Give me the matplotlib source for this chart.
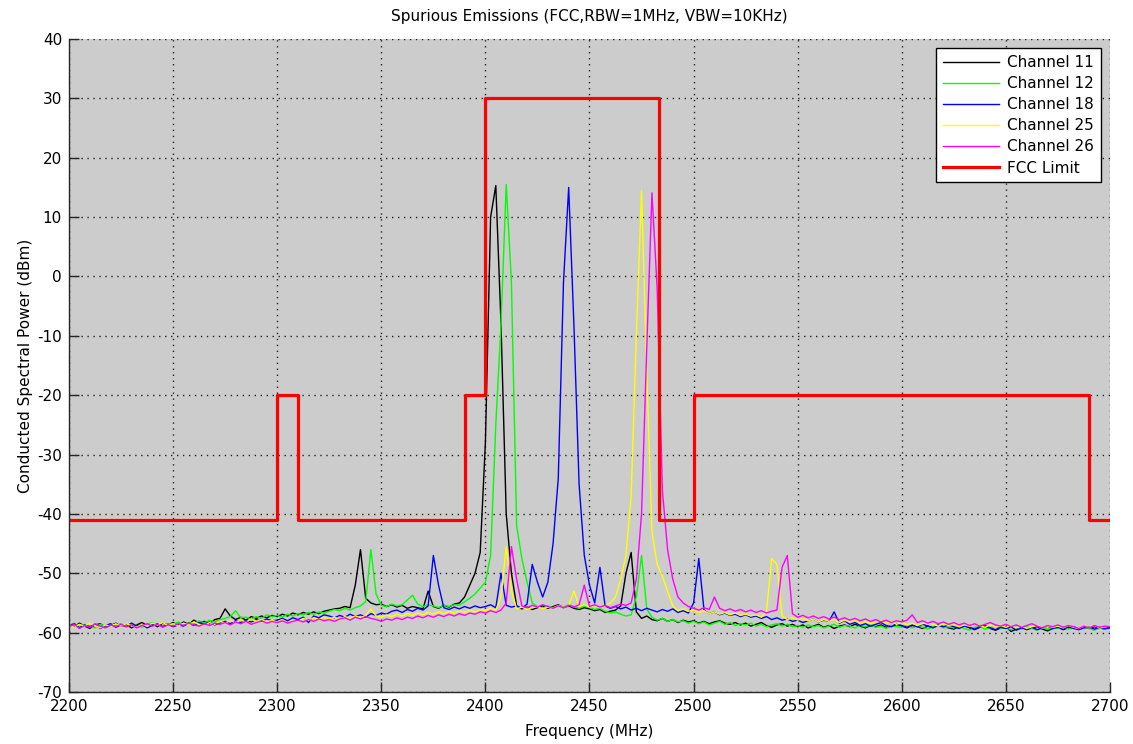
import numpy as np
import matplotlib
matplotlib.use("Agg")
import matplotlib.pyplot as plt

# ---------------- data ----------------
# sweep frequencies (MHz): 2200 .. 2700 in 2.5 MHz steps (201 points)
freq_start, freq_stop, n_points = 2200, 2700, 201

ch11 = [
    -58.6, -59.0, -58.4, -58.9, -59.3, -58.7, -58.5, -59.1, -58.8, -58.4,
    -58.9, -58.6, -59.2, -58.7, -58.3, -58.8, -58.5, -59.0, -58.4, -58.7,
    -58.3, -58.8, -58.2, -58.6, -57.9, -58.4, -58.1, -58.5, -57.8, -57.6,
    -56.0, -57.2, -57.8, -57.4, -57.9, -57.3, -57.6, -57.2, -57.5, -57.1,
    -57.3, -56.9, -57.2, -56.7, -57.0, -56.6, -56.9, -56.5, -56.8, -56.4,
    -56.2, -56.0, -55.9, -55.6, -55.8, -52.0, -46.0, -54.2, -55.0, -55.3,
    -55.2, -55.6, -55.3, -55.7, -55.4, -55.9, -55.6, -55.8, -56.0, -53.0,
    -55.6, -55.9, -55.4, -55.7, -55.2, -55.0, -54.0, -52.0, -50.0, -46.5,
    -28.0, 10.0, 15.3, -8.0, -40.0, -50.0, -55.5, -56.0, -55.7, -56.1,
    -55.8, -55.5, -55.9, -55.6, -55.3, -55.8, -55.5, -55.9, -56.1, -55.8,
    -56.0, -56.3, -56.1, -56.6, -56.4, -56.2, -55.5, -50.0, -46.5, -56.5,
    -57.6, -57.2, -57.8, -58.0, -57.6, -58.1, -57.8, -58.3, -57.9, -58.2,
    -58.0, -58.4, -58.1, -58.5, -58.2, -58.0, -58.4, -58.6, -58.3, -58.7,
    -58.4, -58.9, -58.6, -58.3, -58.8, -59.1, -58.7, -58.5, -58.9, -58.6,
    -59.0, -58.7, -59.2, -58.9, -58.6, -59.1, -58.8, -59.3, -58.9, -58.7,
    -59.0, -58.6, -58.9, -59.2, -58.8, -59.0, -58.7, -59.1, -58.9, -58.6,
    -58.9, -59.2, -58.8, -59.0, -59.3, -58.9, -59.1, -58.7, -59.0, -59.2,
    -59.4, -59.0, -58.8, -59.2, -59.5, -59.1, -58.9, -59.3, -59.6, -59.2,
    -59.0, -59.8, -59.4, -59.1, -59.5, -59.2, -59.0, -59.4, -59.7, -59.3,
    -59.1, -59.5, -59.2, -59.0, -59.4, -59.1, -59.3, -59.0, -59.2, -59.4,
    -59.1,
]

ch12 = [
    -58.8, -58.4, -59.0, -58.6, -58.9, -59.2, -58.6, -58.9, -58.5, -58.8,
    -58.5, -58.9, -58.4, -58.8, -59.1, -58.6, -58.3, -58.7, -58.9, -58.5,
    -58.6, -58.2, -58.7, -58.3, -58.5, -58.0, -58.4, -57.9, -58.2, -57.8,
    -57.6, -57.3, -56.3, -57.5, -57.4, -57.7, -57.3, -57.6, -57.0, -57.3,
    -57.1, -57.4, -56.9, -57.2, -56.8, -57.0, -56.6, -56.9, -56.5, -56.7,
    -56.4, -56.1, -56.3, -55.9, -56.2, -55.8, -55.5, -54.8, -46.0, -53.5,
    -55.4, -55.6, -55.2, -55.5, -55.3, -54.5, -53.7, -55.2, -55.6, -55.3,
    -55.5, -55.8, -55.4, -55.6, -55.3, -55.4, -54.8, -54.2, -53.5, -52.5,
    -51.5, -47.0, -25.0, -8.0, 15.5, -1.0, -42.0, -47.5, -51.5, -55.0,
    -55.6, -55.9, -55.5, -55.8, -55.4, -55.7, -55.3, -55.6, -55.9, -55.5,
    -55.8, -56.1, -55.9, -56.4, -56.7, -56.5, -56.9, -57.2, -57.0, -54.0,
    -47.0, -56.0, -57.4, -57.9, -57.6, -58.1, -57.8, -58.2, -58.0, -58.4,
    -58.1, -58.5, -58.2, -58.7, -58.4, -58.1, -58.6, -58.3, -58.8, -58.5,
    -58.7, -58.4, -58.9, -58.6, -59.0, -58.7, -58.5, -58.9, -58.6, -59.0,
    -58.8, -59.1, -58.7, -59.0, -58.8, -59.2, -58.9, -58.6, -59.1, -58.8,
    -58.9, -59.2, -58.8, -59.0, -58.7, -59.1, -58.9, -59.3, -58.8, -59.0,
    -59.1, -58.8, -59.2, -58.9, -59.1, -59.4, -59.0, -58.8, -59.2, -59.0,
    -59.2, -58.9, -59.3, -59.6, -59.1, -59.0, -59.4, -59.2, -58.9, -59.3,
    -59.2, -59.5, -59.1, -59.4, -59.0, -59.3, -59.6, -59.1, -59.4, -59.2,
    -59.3, -59.0, -59.4, -59.2, -59.5, -59.1, -59.3, -59.6, -59.2, -59.4,
    -59.3,
]

ch18 = [
    -58.9, -58.5, -59.2, -58.7, -59.0, -58.6, -59.3, -58.8, -58.5, -59.1,
    -58.7, -59.0, -58.4, -58.9, -58.6, -59.2, -58.8, -58.5, -59.0, -58.6,
    -59.0, -58.7, -58.9, -58.4, -58.8, -58.3, -58.6, -58.2, -58.7, -58.4,
    -58.1, -58.5, -58.0, -58.3, -57.9, -58.2, -57.8, -58.1, -57.7, -58.0,
    -57.9, -57.6, -58.0, -57.5, -57.8, -57.4, -58.3, -57.2, -57.5, -57.0,
    -57.2, -57.5, -57.1, -57.4, -56.9, -57.3, -57.0, -57.4, -56.8, -57.1,
    -56.7, -56.9, -56.4, -56.2, -56.6, -56.1, -56.4, -55.9, -56.2, -55.5,
    -47.0, -52.0, -55.8, -56.1, -55.7, -56.0, -55.6, -55.9, -55.5, -55.8,
    -55.6, -55.3, -55.8, -50.0, -55.4, -55.7, -55.5, -55.9, -55.2, -48.5,
    -51.5, -54.0, -51.5, -45.0, -34.0, -1.0, 15.0, -8.0, -35.0, -47.0,
    -52.0, -55.0, -49.0, -55.5, -55.9, -55.6, -56.0, -55.7, -56.2, -55.9,
    -56.3, -55.9, -56.2, -56.5, -56.1, -56.4, -56.0, -56.6, -56.3, -56.7,
    -55.0, -47.5, -56.2, -56.8, -56.5, -57.0, -56.7, -57.1, -56.9, -57.3,
    -57.0, -57.4, -57.2, -57.6, -57.3, -57.8, -57.5, -57.9, -57.7, -58.1,
    -57.9, -58.3, -58.0, -57.7, -58.2, -57.9, -58.1, -56.5, -58.4, -58.0,
    -58.6, -58.3, -58.8, -58.5, -58.9, -58.6, -58.3, -58.8, -59.0, -58.6,
    -58.8, -59.1, -58.7, -59.0, -58.6, -58.9, -59.2, -58.8, -59.0, -58.7,
    -59.0, -59.3, -58.9, -59.1, -59.4, -59.0, -58.8, -59.2, -59.5, -59.1,
    -59.3, -59.0, -59.6, -59.2, -59.4, -59.1, -59.5, -59.2, -58.9, -59.3,
    -59.1, -59.4, -59.0, -59.3, -59.5, -59.2, -59.0, -59.4, -59.1, -59.3,
    -59.2,
]

ch25 = [
    -58.7, -59.1, -58.6, -58.9, -58.4, -58.8, -59.2, -58.7, -58.9, -58.5,
    -58.9, -58.5, -58.8, -59.1, -58.6, -58.9, -58.4, -58.7, -58.3, -58.8,
    -58.5, -58.9, -58.4, -58.7, -58.2, -58.6, -58.8, -58.3, -58.6, -58.1,
    -58.4, -58.0, -58.3, -57.9, -58.2, -57.7, -58.1, -57.8, -58.2, -57.9,
    -58.2, -57.8, -58.4, -57.9, -58.1, -57.6, -57.9, -57.5, -57.8, -57.4,
    -57.7, -57.4, -57.8, -57.3, -57.6, -57.2, -57.5, -57.1, -56.0, -57.2,
    -57.4, -57.0, -57.3, -56.9, -57.2, -56.8, -57.1, -56.7, -57.0, -56.6,
    -56.9, -56.5, -56.8, -56.4, -56.7, -56.3, -56.6, -56.2, -56.5, -56.1,
    -56.3, -55.9, -56.2, -54.0, -45.5, -53.0, -56.0, -55.7, -56.1, -55.8,
    -55.6, -56.0, -55.7, -55.9, -55.5, -55.8, -55.4, -53.0, -55.6, -55.3,
    -55.7, -55.4, -55.8, -55.5, -55.0, -54.0, -51.0, -47.0, -37.0, -10.0,
    14.4, -16.0, -43.0, -48.5, -50.5, -53.0, -55.5, -56.3, -56.0, -56.4,
    -56.2, -56.6, -56.3, -56.8, -56.5, -56.9, -56.6, -57.0, -56.7, -57.1,
    -56.9, -57.2, -57.0, -57.4, -56.5, -47.5, -48.5, -57.2, -57.8, -57.5,
    -57.9, -57.6, -58.0, -57.7, -58.2, -57.8, -58.1, -57.7, -58.3, -57.9,
    -58.2, -57.9, -58.4, -58.1, -58.5, -58.2, -58.0, -58.4, -58.1, -58.6,
    -58.3, -58.7, -58.4, -58.8, -58.5, -58.2, -58.6, -58.9, -58.5, -58.8,
    -58.6, -59.0, -58.7, -58.9, -58.5, -58.8, -59.1, -58.7, -59.0, -58.8,
    -59.1, -58.8, -59.2, -58.9, -59.3, -59.0, -58.8, -59.2, -58.9, -59.1,
    -58.9, -59.2, -58.8, -59.1, -59.3, -58.9, -59.1, -58.8, -59.2, -59.0,
    -58.9,
]

ch26 = [
    -59.0, -58.6, -59.3, -58.8, -59.1, -58.5, -58.9, -59.2, -58.7, -59.0,
    -58.6, -59.0, -58.7, -59.2, -58.8, -58.5, -58.9, -58.6, -59.1, -58.7,
    -58.9, -58.5, -58.8, -58.4, -58.7, -58.9, -58.5, -58.8, -58.4, -58.6,
    -58.3, -58.7, -58.2, -58.5, -58.1, -58.6, -58.3, -58.0, -58.4, -58.1,
    -58.3, -58.0, -58.4, -58.1, -57.9, -58.2, -57.8, -58.1, -57.7, -58.0,
    -57.8, -58.1, -57.7, -57.5, -57.9, -57.4, -57.7, -57.3, -57.6, -57.8,
    -58.1, -57.7, -57.9, -57.5, -57.8, -57.4, -57.6, -57.2, -57.5, -57.1,
    -57.4, -57.0, -57.3, -56.9, -57.2, -56.8, -57.1, -56.7, -56.9, -56.5,
    -56.7, -56.3, -56.6, -56.2, -55.0, -45.5, -51.0, -55.5, -55.8, -55.4,
    -55.7, -55.3, -55.6, -55.9, -55.5, -55.8, -55.4, -55.7, -55.3, -52.0,
    -55.6, -55.3, -55.7, -55.4, -55.8, -55.5, -55.2, -55.4, -55.0, -51.0,
    -40.0, -12.0, 14.1, -2.0, -36.0, -46.0, -51.0, -54.0, -55.0, -55.6,
    -55.9, -56.2, -55.8, -56.1, -54.0, -55.9, -56.3, -56.0, -56.4, -56.1,
    -56.5, -56.2, -56.6, -56.3, -56.7, -56.4, -56.2, -49.0, -47.0, -56.8,
    -57.4, -57.1, -57.5, -57.2, -57.6, -57.3, -57.7, -57.4, -57.8, -57.5,
    -57.9, -57.6, -58.0, -57.7, -58.1, -57.8, -58.2, -57.9, -58.3, -58.0,
    -58.2, -57.9, -57.0, -58.3, -58.0, -58.4, -58.1, -58.5, -58.2, -58.6,
    -58.3, -58.7, -58.4, -58.8, -58.5, -58.9, -58.6, -58.3, -58.7, -58.9,
    -58.6, -59.0, -58.7, -59.1, -58.8, -58.5, -58.9, -59.2, -58.8, -59.0,
    -58.7, -59.1, -58.8, -59.0, -59.3, -58.9, -59.2, -58.8, -59.1, -58.9,
    -59.0,
]

series_labels = ["Channel 11", "Channel 12", "Channel 18", "Channel 25", "Channel 26"]
series_colors = ["#000000", "#00ff00", "#0000ff", "#ffff00", "#ff00ff"]

# FCC limit mask
limit_edges = [2200, 2300, 2310, 2390, 2400, 2483.5, 2500, 2690, 2700]
limit_levels = [-41, -20, -41, -20, 30, -41, -20, -41]

x_ticks = [2200, 2250, 2300, 2350, 2400, 2450, 2500, 2550, 2600, 2650, 2700]
y_ticks = [-70, -60, -50, -40, -30, -20, -10, 0, 10, 20, 30, 40]

# ---------------- plot ----------------
plt.rcParams['font.family'] = ['DejaVu Sans']
plt.rcParams['axes.unicode_minus'] = False
fig = plt.figure(figsize=(11.33, 7.44), dpi=100)
ax = fig.add_axes([69 / 1133, 52 / 744, (1110 - 69) / 1133, (692 - 39) / 744])
ax.set_facecolor("#cccccc")

freq = np.linspace(freq_start, freq_stop, n_points)
for vals, lab, col in zip([ch11, ch12, ch18, ch25, ch26], series_labels, series_colors):
    ax.plot(freq, vals, color=col, lw=1.0, label=lab)

ax.step(limit_edges, limit_levels + [limit_levels[-1]], where="post",
        color="#ff0000", lw=2.3, label="FCC Limit")

ax.set_xlim(2200, 2700)
ax.set_ylim(-70, 40)
ax.set_xticks(x_ticks)
ax.set_yticks(y_ticks)
ax.tick_params(direction="in", length=7.5, width=1, labelsize=11, pad=5,
               top=False, right=False, color="#262626")
ax.grid(True, color="#222222", linestyle=(0, (1, 3.3)), linewidth=1.0)
ax.set_axisbelow(True)
for side in ["top", "right"]:
    ax.spines[side].set_visible(False)
for side in ["left", "bottom"]:
    ax.spines[side].set_color("#262626")
    ax.spines[side].set_linewidth(1.0)

ax.set_title("Spurious Emissions (FCC,RBW=1MHz, VBW=10KHz)", fontsize=11, pad=13)
ax.set_xlabel("Frequency (MHz)", fontsize=11, labelpad=7)
ax.set_ylabel("Conducted Spectral Power (dBm)", fontsize=11, labelpad=3)

leg = ax.legend(loc="upper right", fontsize=11, frameon=True, fancybox=False,
                framealpha=1, edgecolor="black", handlelength=3.7,
                labelspacing=0.4, borderaxespad=0.6, handletextpad=0.5,
                borderpad=0.45)
leg.get_frame().set_linewidth(1.0)

fig.savefig("out.png", dpi=100, facecolor="white")
